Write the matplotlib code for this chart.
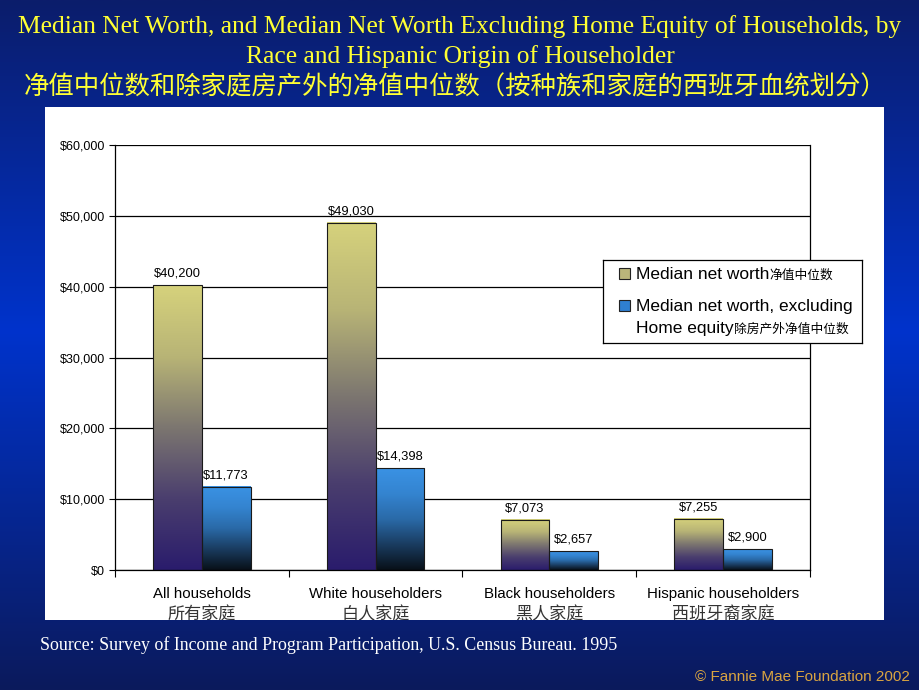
import numpy as np
import matplotlib
matplotlib.use("Agg")
import matplotlib.pyplot as plt
from matplotlib.colors import LinearSegmentedColormap
from matplotlib.patches import Rectangle

# data
categories = ["All households", "White householders", "Black householders", "Hispanic householders"]
categories_cn = ["所有家庭", "白人家庭", "黑人家庭", "西班牙裔家庭"]
net_worth = [40200, 49030, 7073, 7255]
net_worth_ex_home = [11773, 14398, 2657, 2900]
yticks = [0, 10000, 20000, 30000, 40000, 50000, 60000]

SANS = ["Liberation Sans", "DejaVu Sans"]
CJK = ["Noto Sans CJK SC", "DejaVu Sans"]
SERIF = ["Liberation Serif", "DejaVu Serif"]

yellow_cmap = LinearSegmentedColormap.from_list(
    "yel", ["#2a1c6c", "#4a3e6e", "#7c7670", "#b8b476", "#d6d27c"])
blue_cmap = LinearSegmentedColormap.from_list(
    "blu", ["#081018", "#1a3c60", "#2a6aa8", "#3484d0", "#3a92e4"])
bg_cmap = LinearSegmentedColormap.from_list(
    "bg", [(0, "#0b1a5c"), (0.52, "#0033cc"), (1, "#0b1d6b")])

fig = plt.figure(figsize=(9.2, 6.9), dpi=100)

# background gradient
bg = fig.add_axes([0, 0, 1, 1], zorder=-10)
bg.imshow(np.linspace(0, 1, 256).reshape(-1, 1), cmap=bg_cmap, aspect="auto",
          origin="lower", extent=[0, 1, 0, 1])
bg.axis("off")

# white panel
panel = Rectangle((45 / 920, 1 - 620 / 690), 839 / 920, 513 / 690,
                  transform=fig.transFigure, facecolor="white",
                  edgecolor="none", zorder=-5)
fig.patches.append(panel)

# titles
fig.text(0.5, 1 - 27 / 690, "Median Net Worth, and Median Net Worth Excluding Home Equity of Households, by",
         ha="center", va="center", color="#ffff33", fontsize=18.4, family=SERIF)
fig.text(0.5, 1 - 57 / 690, "Race and Hispanic Origin of Householder",
         ha="center", va="center", color="#ffff33", fontsize=18.4, family=SERIF)
fig.text(455 / 920, 1 - 88 / 690, "净值中位数和除家庭房产外的净值中位数（按种族和家庭的西班牙血统划分）",
         ha="center", va="center", color="#ffff33", fontsize=18.3, family=CJK)

# main chart
ax = fig.add_axes([115 / 920, 1 - 570 / 690, 695 / 920, 425 / 690])
ax.set_facecolor("white")
x = np.arange(len(categories))
w = 0.28
for i in range(len(categories)):
    for vals, off, cmap in [(net_worth, -w, yellow_cmap), (net_worth_ex_home, 0, blue_cmap)]:
        h = vals[i]
        x0 = x[i] + off
        ax.imshow(np.linspace(0, 1, 256).reshape(-1, 1), cmap=cmap, aspect="auto",
                  origin="lower", extent=[x0, x0 + w, 0, h], zorder=2)
        ax.bar(x0, h, width=w, align="edge", facecolor="none", edgecolor="#1a1a1a",
               linewidth=0.8, zorder=3)
        ax.annotate(f"${h:,}", xy=(x0 + w / 2, h), xytext=(0, 4), textcoords="offset points",
                    ha="center", va="bottom", fontsize=9.3, family=SANS, color="black")

ax.set_xlim(-0.5, 3.5)
ax.set_ylim(0, 60000)
ax.set_yticks(yticks)
ax.set_yticklabels([f"${v:,}" for v in yticks], fontsize=9, family=SANS)
ax.tick_params(axis="y", length=4, width=0.8, pad=3)
ax.set_xticks(np.arange(-0.5, 4, 1))
ax.set_xticklabels([])
ax.tick_params(axis="x", length=5, width=0.8, direction="out")
ax.yaxis.grid(True, color="black", linewidth=0.9)
ax.set_axisbelow(True)
for s in ["left", "bottom", "right"]:
    ax.spines[s].set_color("black")
    ax.spines[s].set_linewidth(0.9)
ax.spines["top"].set_visible(False)

for i in range(len(categories)):
    ax.annotate(categories[i], xy=(x[i], 0), xycoords=("data", "axes fraction"),
                xytext=(0, -17.3), textcoords="offset points", ha="center", va="center",
                fontsize=10.8, family=SANS)
    t = ax.annotate(categories_cn[i], xy=(x[i], 0), xycoords=("data", "axes fraction"),
                    xytext=(0, -32), textcoords="offset points", ha="center", va="center",
                    fontsize=12.3, family=CJK, color="#333333", annotation_clip=False)
    t.set_clip_path(panel)

# legend box
lg = fig.add_axes([603 / 920, 1 - 343 / 690, 259 / 920, 83 / 690], zorder=5)
lg.set_xlim(0, 259)
lg.set_ylim(83, 0)
lg.set_xticks([])
lg.set_yticks([])
lg.set_facecolor("white")
for s in lg.spines.values():
    s.set_linewidth(0.9)
    s.set_color("black")
lg.add_patch(Rectangle((16, 8), 11, 11, facecolor="#bab67a", edgecolor="#222222", linewidth=0.8))
lg.add_patch(Rectangle((16, 40), 11, 11, facecolor="#2f7fd0", edgecolor="#222222", linewidth=0.8))
t1 = lg.text(33, 19, "Median net worth", fontsize=12.5, family=SANS, va="baseline")
lg.annotate("净值中位数", xy=(1, 0), xycoords=t1, xytext=(0, 0.5), textcoords="offset points",
            ha="left", va="bottom", fontsize=9.2, family=CJK)
lg.text(33, 51, "Median net worth, excluding", fontsize=12.5, family=SANS, va="baseline")
t3 = lg.text(33, 73, "Home equity", fontsize=12.5, family=SANS, va="baseline")
lg.annotate("除房产外净值中位数", xy=(1, 0), xycoords=t3, xytext=(0, 0.5), textcoords="offset points",
            ha="left", va="bottom", fontsize=9.2, family=CJK)

# footer
fig.text(40 / 920, 1 - 645 / 690, "Source: Survey of Income and Program Participation, U.S. Census Bureau. 1995",
         ha="left", va="center", color="white", fontsize=12.9, family=SERIF)
fig.text(910 / 920, 1 - 677 / 690, "© Fannie Mae Foundation 2002",
         ha="right", va="center", color="#d9a441", fontsize=11, family=SANS)

fig.savefig("out.png", dpi=100)
